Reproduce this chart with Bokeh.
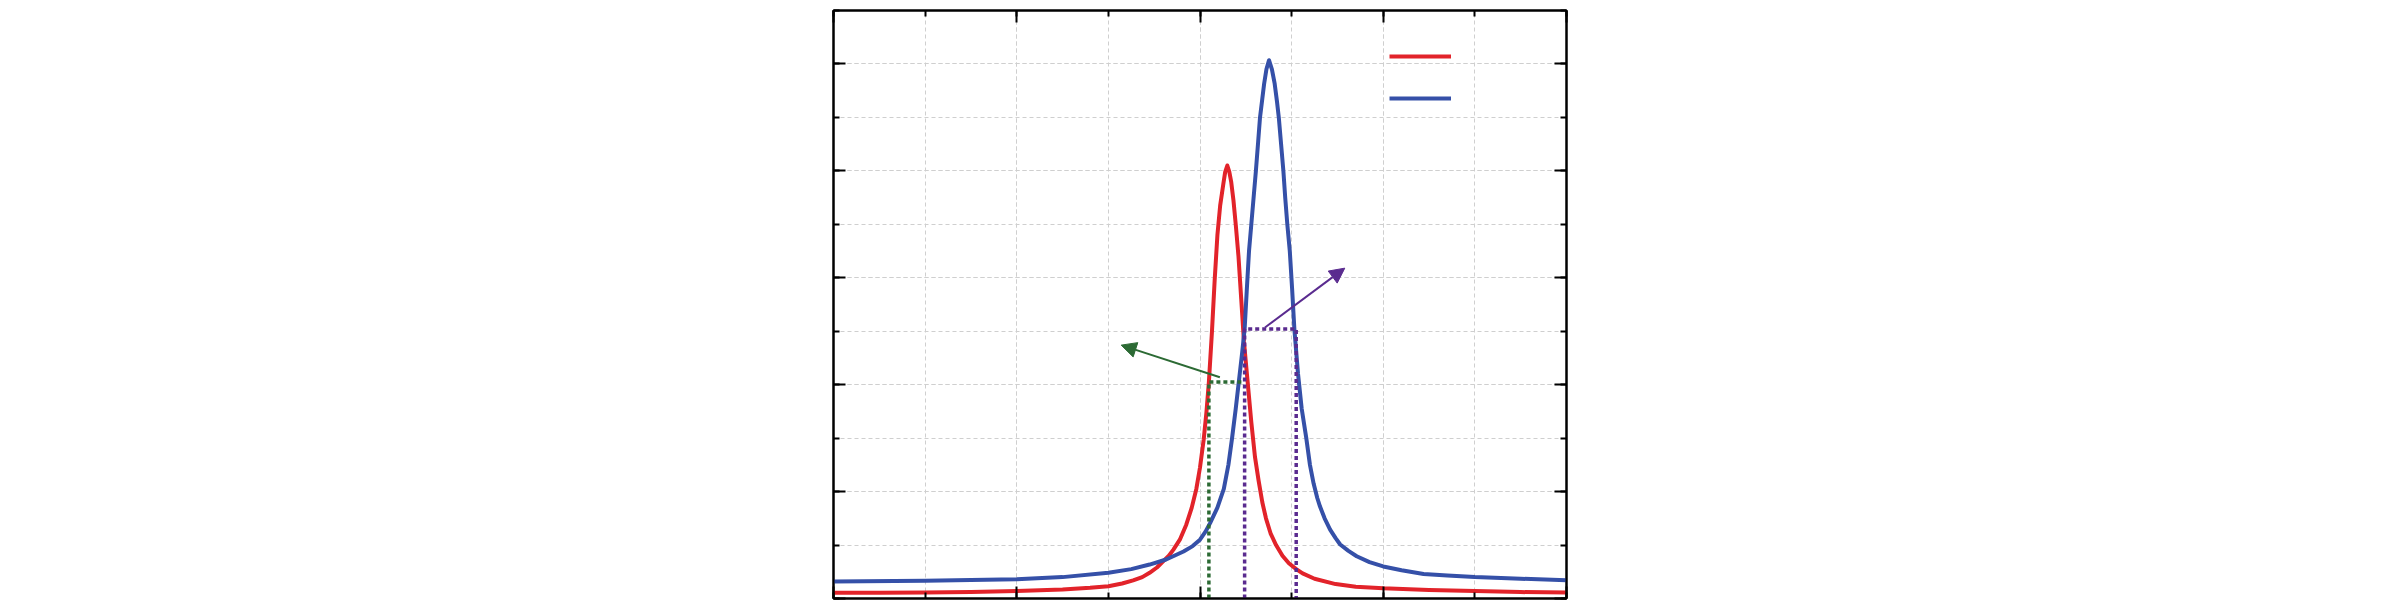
from bokeh.plotting import figure
from bokeh.models import (Range1d, LinearAxis, SingleIntervalTicker, Arrow, NormalHead,
                          Legend, LegendItem)
from bokeh.embed import file_html
from bokeh.resources import INLINE

# ---- data (in grid units) ----
red_x = [0.0, 0.5, 1.0, 1.5, 2.0, 2.5, 2.8, 3.0, 3.15, 3.27, 3.37, 3.45, 3.53, 3.6, 3.66,
         3.71, 3.78, 3.85, 3.91, 3.96, 4.00, 4.04, 4.07, 4.097, 4.13, 4.16, 4.19, 4.22, 4.255,
         4.275, 4.298, 4.32, 4.34, 4.365, 4.39, 4.42, 4.45, 4.48, 4.52, 4.56, 4.60, 4.64,
         4.68, 4.72, 4.77, 4.83, 4.90, 4.97, 5.05, 5.12, 5.25, 5.48, 5.7, 6.0, 6.5, 7.0,
         7.5, 8.0]
red_y = [0.106, 0.108, 0.11, 0.12, 0.14, 0.17, 0.20, 0.23, 0.28, 0.34, 0.40, 0.48, 0.58,
         0.70, 0.80, 0.915, 1.10, 1.38, 1.70, 2.05, 2.45, 2.97, 3.48, 4.05, 4.98, 5.95, 6.8,
         7.35, 7.76, 7.98, 8.10, 7.98, 7.80, 7.45, 7.0, 6.4, 5.6, 4.8, 4.05, 3.3, 2.65, 2.2,
         1.8, 1.5, 1.22, 1.0, 0.80, 0.66, 0.55, 0.47, 0.37, 0.27, 0.22, 0.19, 0.16, 0.14,
         0.12, 0.11]

blue_x = [0.0, 1.0, 2.0, 2.5, 3.0, 3.25, 3.45, 3.63, 3.82, 3.92, 4.0, 4.06, 4.11, 4.19,
          4.26, 4.31, 4.35, 4.39, 4.43, 4.46, 4.487, 4.51, 4.535, 4.56, 4.585, 4.61, 4.635,
          4.655, 4.68, 4.70, 4.725, 4.753, 4.785, 4.815, 4.84, 4.86, 4.885, 4.91, 4.93,
          4.953, 4.98, 5.005, 5.03, 5.07, 5.11, 5.16, 5.20, 5.24, 5.28, 5.31, 5.36, 5.42,
          5.48, 5.53, 5.62, 5.71, 5.85, 6.0, 6.2, 6.44, 6.7, 7.0, 7.5, 8.0]
blue_y = [0.317, 0.33, 0.36, 0.40, 0.48, 0.55, 0.635, 0.73, 0.88, 0.98, 1.10, 1.25, 1.41,
          1.70, 2.05, 2.5, 3.0, 3.55, 4.15, 4.6, 5.04, 5.75, 6.5, 7.0, 7.5, 8.0, 8.55,
          9.0, 9.35, 9.63, 9.9, 10.07, 9.9, 9.63, 9.3, 9.0, 8.5, 8.0, 7.5,
          7.0, 6.5, 5.8, 5.04, 4.2, 3.55, 3.0, 2.5, 2.15, 1.88, 1.72, 1.5, 1.29,
          1.13, 1.01, 0.89, 0.79, 0.68, 0.60, 0.53, 0.46, 0.43, 0.40, 0.37, 0.34]

# FWHM markers
red_fwhm_x = [4.097, 4.097, 4.48]
red_fwhm_y = [0.0, 4.05, 4.05]
blue_fwhm_x = [4.487, 4.487, 5.05, 5.05]
blue_fwhm_y = [0.0, 5.04, 5.04, 0.0]

# annotation arrows (start -> end)
green_arrow = [4.217, 4.14, 3.14, 4.74]
purple_arrow = [4.709, 5.07, 5.58, 6.18]

x_limits = [0, 8]
y_limits = [0, 11]

RED = "#e2232a"
BLUE = "#3550a8"
GREEN = "#2c6a34"
PURPLE = "#5a2b8f"

p = figure(width=2400, height=606, output_backend="svg", toolbar_location=None,
           x_range=Range1d(*x_limits), y_range=Range1d(*y_limits),
           x_axis_location=None, y_axis_location=None,
           min_border_left=833, min_border_right=834, min_border_top=10, min_border_bottom=8)
p.background_fill_color = "white"
p.border_fill_color = "white"
p.outline_line_color = "black"
p.outline_line_width = 2

xt = SingleIntervalTicker(interval=2, num_minor_ticks=2)
yt = SingleIntervalTicker(interval=2, num_minor_ticks=2)

for place in ["left", "right", "above", "below"]:
    t = yt if place in ("left", "right") else xt
    ax = LinearAxis(ticker=t)
    ax.axis_line_color = "black"
    ax.axis_line_width = 2
    ax.major_tick_in = 12
    ax.major_tick_out = 0
    ax.minor_tick_in = 6
    ax.minor_tick_out = 0
    ax.major_tick_line_width = 2
    ax.minor_tick_line_width = 2
    ax.major_tick_line_color = "black"
    ax.minor_tick_line_color = "black"
    ax.major_label_text_font_size = "0px"
    ax.major_label_text_color = None
    ax.major_label_standoff = 0
    p.add_layout(ax, place)

p.xgrid.ticker = xt
p.ygrid.ticker = yt
for g in (p.xgrid[0], p.ygrid[0]):
    g.grid_line_color = "#cfcfcf"
    g.grid_line_dash = "4 3"
    g.grid_line_width = 1
    g.minor_grid_line_color = "#cfcfcf"
    g.minor_grid_line_dash = "4 3"
    g.minor_grid_line_width = 1

r_red = p.line(red_x, red_y, line_color=RED, line_width=4, line_join="round")
r_blue = p.line(blue_x, blue_y, line_color=BLUE, line_width=4, line_join="round")

p.line(red_fwhm_x, red_fwhm_y, line_color=GREEN, line_width=3.5, line_dash="4 3")
p.line(blue_fwhm_x, blue_fwhm_y, line_color=PURPLE, line_width=3.5, line_dash="4 3")

for arr, c in ((green_arrow, GREEN), (purple_arrow, PURPLE)):
    p.add_layout(Arrow(end=NormalHead(size=15, fill_color=c, line_color=c, line_width=1),
                       x_start=arr[0], y_start=arr[1], x_end=arr[2], y_end=arr[3],
                       line_color=c, line_width=2))

legend = Legend(items=[LegendItem(label="", renderers=[r_red]),
                       LegendItem(label="", renderers=[r_blue])],
                location=(556, 490))
legend.glyph_width = 62
legend.glyph_height = 20
legend.label_height = 20
legend.label_width = 0
legend.label_standoff = 0
legend.spacing = 22
legend.padding = 0
legend.margin = 0
legend.background_fill_alpha = 0
legend.border_line_alpha = 0
legend.label_text_font_size = "0px"
legend.label_text_color = None
p.add_layout(legend)

open("out.html", "w").write(file_html(p, INLINE))
